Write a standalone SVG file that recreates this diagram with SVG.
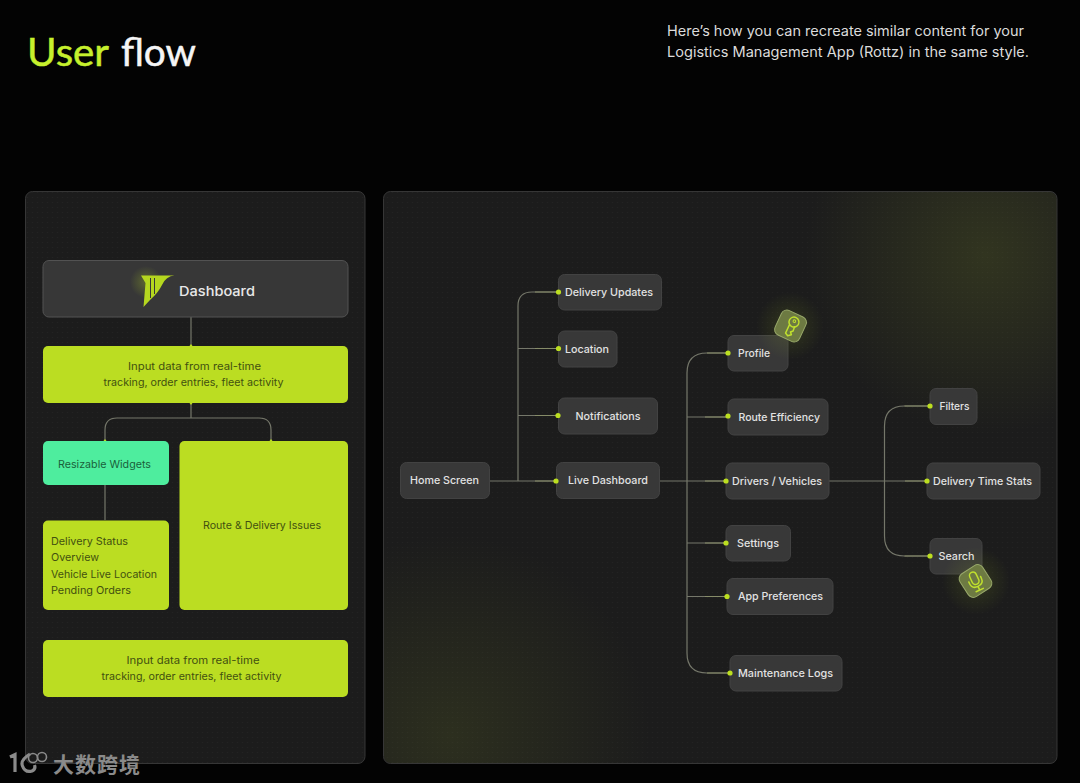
<svg xmlns="http://www.w3.org/2000/svg" width="1080" height="783" viewBox="0 0 1080 783">
<style>
text{font-family:"Inter","Noto Sans",sans-serif}
.panel{stroke:#363636;stroke-width:1}
.n{fill:#383838;stroke:#424242;stroke-width:1}
.t{fill:#e2e2e2;font-size:10.8px;font-weight:500}
.lime{fill:#bbdd22}
.mint{fill:#4eed9e}
.d{fill:#425010;font-size:10.5px;font-weight:400}
.c{fill:none;stroke:#75776a;stroke-width:1.2}
.cg{fill:none;stroke:#868c68;stroke-width:1.2}
.dot{fill:#bcdf20}
.badge{fill:#6d7a42;stroke:#98a86a;stroke-width:1}
.ic{fill:none;stroke:#c0e02e;stroke-width:1.5;stroke-linecap:round;stroke-linejoin:round}
</style>
<defs>
<pattern id="dots" width="5" height="5" patternUnits="userSpaceOnUse"><rect width="5" height="5" fill="#1c1c1c"/><circle cx="2.5" cy="2.5" r="0.6" fill="#242424"/></pattern>
<radialGradient id="gtr" gradientUnits="userSpaceOnUse" cx="985" cy="255" r="180"><stop offset="0" stop-color="#6e7a2a" stop-opacity=".26"/><stop offset="1" stop-color="#6e7a2a" stop-opacity="0"/></radialGradient>
<radialGradient id="gbl" gradientUnits="userSpaceOnUse" cx="450" cy="735" r="200"><stop offset="0" stop-color="#6e7a2a" stop-opacity=".2"/><stop offset="1" stop-color="#6e7a2a" stop-opacity="0"/></radialGradient>
<radialGradient id="glow"><stop offset="0" stop-color="#bcdf20" stop-opacity=".28"/><stop offset="1" stop-color="#bcdf20" stop-opacity="0"/></radialGradient>
</defs>
<rect width="1080" height="783" fill="#030303"/>
<text x="27" y="66" textLength="82" lengthAdjust="spacingAndGlyphs" style="font-family:Lato,sans-serif;font-size:39px;stroke:#c6f02d;stroke-width:.5" fill="#c6f02d">User</text>
<text x="121" y="66" textLength="75" lengthAdjust="spacingAndGlyphs" style="font-family:Lato,sans-serif;font-size:39px;stroke:#f5f5f5;stroke-width:.5" fill="#f5f5f5">flow</text>
<text x="667" y="36" textLength="357" lengthAdjust="spacingAndGlyphs" style="font-size:14px" fill="#dcdcdc">Here’s how you can recreate similar content for your</text>
<text x="667" y="57" textLength="362" lengthAdjust="spacingAndGlyphs" style="font-size:14px" fill="#dcdcdc">Logistics Management App (Rottz) in the same style.</text>

<rect class="panel" x="25.5" y="191.5" width="339.5" height="572" rx="7" fill="url(#dots)"/>
<rect class="panel" x="383.5" y="191.5" width="673.5" height="572" rx="7" fill="url(#dots)"/>
<rect x="384" y="192" width="672.500" height="571" rx="7" fill="url(#gtr)"/>
<rect x="384" y="192" width="672.500" height="571" rx="7" fill="url(#gbl)"/>

<g id="connectors">
<path class="c" d="M191 317V346M191 403V418M191 418H117Q105 418 105 430V441M191 418H259Q271 418 271 430V441M105 485V520"/>
<path class="dot" d="M189.500 346h3l-1.500-2zM189.500 403h3l-1.500 2zM103.500 441h3l-1.500-2zM269.500 441h3l-1.500-2z"/>
<path class="c" d="M489 481H556M518 481V306Q518 292 532 292H558M518 348.500H558M518 415.500H558"/>
<path class="c" d="M660 481H726M687 373Q687 353 707 353H728M687 417H728M687 543H726M687 596.500H727M687 373V653Q687 673 707 673H730"/>
<path class="c" d="M829 481H927M884.500 426Q884.500 406 904.500 406H930M884.500 426V536Q884.500 556 904.500 556H930"/>
<path class="cg" d="M535 292H558M535 348.500H558M535 415.500H558M535 481H556M707 353H728M705 417H728M705 481H726M705 543H726M705 596.500H727M707 673H730M904.500 406H930M905 481H927M904.500 556H930"/>
</g>

<g id="dashboard">
<rect x="43" y="260.500" width="305" height="56.500" rx="6" fill="#373737" stroke="#525252" stroke-width="1"/>
<circle cx="146" cy="282" r="16" fill="url(#glow)"/>
<path fill="#b5d71f" d="M141 275.500H174.500Q166 276 162 285Q158 293 150 300L143.500 307L145.500 283Z"/>
<path fill="none" stroke="#373737" stroke-width="1" d="M150.500 278V298M154.500 278V294"/>
<text x="179" y="296" textLength="76" lengthAdjust="spacingAndGlyphs" style="font-size:13.500px;font-weight:500" fill="#e8e8e8">Dashboard</text>
</g>
<g id="input-top">
<rect class="lime" x="43" y="346" width="305" height="57" rx="5"/>
<text class="d" x="128" y="370" textLength="133" lengthAdjust="spacingAndGlyphs">Input data from real-time</text>
<text class="d" x="103.500" y="386" textLength="180" lengthAdjust="spacingAndGlyphs">tracking, order entries, fleet activity</text>
</g>
<g id="resizable">
<rect class="mint" x="43" y="441" width="126" height="44" rx="5"/>
<text class="d" x="58" y="467.500" textLength="93" lengthAdjust="spacingAndGlyphs" style="fill:#1a5f3b">Resizable Widgets</text>
</g>
<g id="route-issues">
<rect class="lime" x="179.500" y="441" width="168.500" height="169" rx="5"/>
<text class="d" x="203" y="529" textLength="118" lengthAdjust="spacingAndGlyphs">Route &amp; Delivery Issues</text>
</g>
<g id="delivery-status">
<rect class="lime" x="43" y="520.500" width="126" height="89.500" rx="5"/>
<text class="d" x="51" y="545" textLength="77" lengthAdjust="spacingAndGlyphs">Delivery Status</text>
<text class="d" x="51" y="561" textLength="48" lengthAdjust="spacingAndGlyphs">Overview</text>
<text class="d" x="51" y="578" textLength="106" lengthAdjust="spacingAndGlyphs">Vehicle Live Location</text>
<text class="d" x="51" y="594" textLength="80" lengthAdjust="spacingAndGlyphs">Pending Orders</text>
</g>
<g id="input-bottom">
<rect class="lime" x="43" y="640" width="305" height="57" rx="5"/>
<text class="d" x="126.500" y="664" textLength="133" lengthAdjust="spacingAndGlyphs">Input data from real-time</text>
<text class="d" x="101.500" y="680" textLength="180" lengthAdjust="spacingAndGlyphs">tracking, order entries, fleet activity</text>
</g>

<g id="home-screen"><rect class="n" x="400.500" y="462.500" width="89" height="36" rx="6"/><text class="t" x="410" y="484" textLength="69" lengthAdjust="spacingAndGlyphs">Home Screen</text></g>
<g id="delivery-updates"><rect class="n" x="558.500" y="274.500" width="103" height="35.500" rx="6"/><text class="t" x="565" y="296" textLength="88" lengthAdjust="spacingAndGlyphs">Delivery Updates</text></g>
<g id="location"><rect class="n" x="558.500" y="331" width="58.500" height="36" rx="6"/><text class="t" x="565" y="352.500" textLength="44" lengthAdjust="spacingAndGlyphs">Location</text></g>
<g id="notifications"><rect class="n" x="558.500" y="398" width="99" height="36" rx="6"/><text class="t" x="575.500" y="419.500" textLength="65" lengthAdjust="spacingAndGlyphs">Notifications</text></g>
<g id="live-dashboard"><rect class="n" x="556.500" y="462.500" width="103" height="36" rx="6"/><text class="t" x="568" y="484" textLength="80" lengthAdjust="spacingAndGlyphs">Live Dashboard</text></g>

<g id="profile"><rect class="n" x="728" y="335.500" width="60" height="35.500" rx="6"/><text class="t" x="738" y="356.500" textLength="32" lengthAdjust="spacingAndGlyphs">Profile</text></g>
<g id="route-efficiency"><rect class="n" x="728" y="399" width="100" height="36" rx="6"/><text class="t" x="738.500" y="420.500" textLength="81.500" lengthAdjust="spacingAndGlyphs">Route Efficiency</text></g>
<g id="drivers-vehicles"><rect class="n" x="726" y="463" width="103" height="36" rx="6"/><text class="t" x="732" y="484.500" textLength="90" lengthAdjust="spacingAndGlyphs">Drivers / Vehicles</text></g>
<g id="settings"><rect class="n" x="726" y="525.500" width="64.500" height="35.500" rx="6"/><text class="t" x="737" y="546.500" textLength="42" lengthAdjust="spacingAndGlyphs">Settings</text></g>
<g id="app-preferences"><rect class="n" x="727" y="578.500" width="106" height="36" rx="6"/><text class="t" x="738" y="600" textLength="85" lengthAdjust="spacingAndGlyphs">App Preferences</text></g>
<g id="maintenance-logs"><rect class="n" x="730" y="655.500" width="112" height="35.500" rx="6"/><text class="t" x="738" y="676.500" textLength="95" lengthAdjust="spacingAndGlyphs">Maintenance Logs</text></g>
<g id="filters"><rect class="n" x="930" y="388.500" width="47" height="36" rx="6"/><text class="t" x="939.500" y="410" textLength="30" lengthAdjust="spacingAndGlyphs">Filters</text></g>
<g id="delivery-time-stats"><rect class="n" x="927" y="463" width="113" height="36" rx="6"/><text class="t" x="933" y="484.500" textLength="99" lengthAdjust="spacingAndGlyphs">Delivery Time Stats</text></g>
<g id="search"><rect class="n" x="930" y="538.500" width="52" height="35.500" rx="6"/><text class="t" x="938.500" y="560" textLength="36" lengthAdjust="spacingAndGlyphs">Search</text></g>

<g id="connector-dots">
<circle class="dot" cx="558.500" cy="292" r="2.600"/>
<circle class="dot" cx="558.500" cy="348.500" r="2.600"/>
<circle class="dot" cx="558" cy="415.500" r="2.600"/>
<circle class="dot" cx="556" cy="481" r="2.600"/>
<circle class="dot" cx="728" cy="353" r="2.600"/>
<circle class="dot" cx="728" cy="416" r="2.600"/>
<circle class="dot" cx="726" cy="481" r="2.600"/>
<circle class="dot" cx="726" cy="543" r="2.600"/>
<circle class="dot" cx="727" cy="596.500" r="2.600"/>
<circle class="dot" cx="730" cy="673" r="2.600"/>
<circle class="dot" cx="930" cy="406" r="2.600"/>
<circle class="dot" cx="927" cy="481" r="2.600"/>
<circle class="dot" cx="930" cy="556" r="2.600"/>
</g>

<g id="key-badge">
<circle cx="790" cy="326" r="34" fill="url(#glow)" opacity=".5"/>
<rect class="badge" x="-13.500" y="-13.500" width="27" height="27" rx="6" transform="translate(790.500 326) rotate(25)"/>
<g transform="translate(790.500 326) rotate(25)"><circle class="ic" cx="1.500" cy="-5" r="5"/><circle cx="1.500" cy="-6" r="1.300" fill="none" stroke="#c0e02e"/><path class="ic" d="M-1.500 -1V8.500L1.500 10L4.500 7.500L2.500 5.500L4.500 3.500L4 -1"/></g>
</g>
<g id="mic-badge">
<circle cx="976" cy="581" r="34" fill="url(#glow)" opacity=".5"/>
<rect class="badge" x="-13.500" y="-13.500" width="27" height="27" rx="6" transform="translate(975.500 581) rotate(-33)"/>
<g transform="translate(975.500 581) rotate(-25)"><rect class="ic" x="-3.500" y="-9.500" width="7" height="13" rx="3.500"/><path class="ic" d="M-6.500 -2V0Q-6.500 6 0 6Q6.500 6 6.500 0V-2M0 6V10M-4 10H4"/></g>
</g>

<g id="watermark">
<path fill="none" stroke="#8a8a8a" stroke-width="3.200" d="M10 757L15 754.500V772M30 754Q20 760 22.500 766Q25 773 32 771Q36 769 34.500 765"/>
<circle cx="33" cy="758" r="4.500" fill="none" stroke="#8a8a8a" stroke-width="1.600"/>
<circle cx="42" cy="757" r="4.500" fill="none" stroke="#8a8a8a" stroke-width="1.600"/>
<text x="53" y="772" textLength="87" style="font-family:'Noto Sans CJK SC',sans-serif;font-size:21px;font-weight:700" fill="#8a8a8a">大数跨境</text>
</g>
</svg>
